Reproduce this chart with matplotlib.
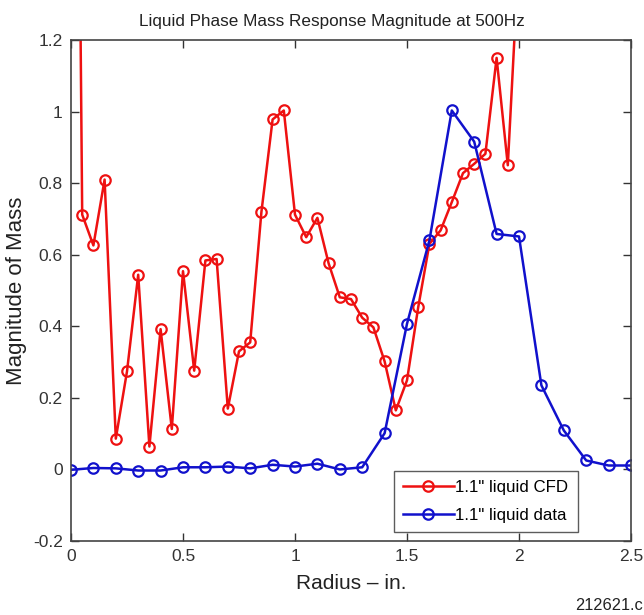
import matplotlib
matplotlib.use("Agg")
import matplotlib.pyplot as plt
from matplotlib.ticker import FuncFormatter

plt.rcParams['font.family'] = ['Liberation Sans', 'DejaVu Sans']

# CFD series (red)
cfd_x = [0.00, 0.05, 0.10, 0.15, 0.20, 0.25, 0.30, 0.35, 0.40, 0.45, 0.50,
         0.55, 0.60, 0.65, 0.70, 0.75, 0.80, 0.85, 0.90, 0.95, 1.00,
         1.05, 1.10, 1.15, 1.20, 1.25, 1.30, 1.35, 1.40, 1.45, 1.50,
         1.55, 1.60, 1.65, 1.70, 1.75, 1.80, 1.85, 1.90, 1.95, 2.00]
cfd_y = [4.2, 0.712, 0.626, 0.81, 0.086, 0.274, 0.544, 0.064, 0.392, 0.113, 0.554,
         0.276, 0.584, 0.588, 0.170, 0.330, 0.355, 0.719, 0.978, 1.003, 0.712,
         0.649, 0.703, 0.576, 0.481, 0.476, 0.424, 0.397, 0.302, 0.165, 0.249,
         0.453, 0.630, 0.668, 0.747, 0.828, 0.854, 0.882, 1.150, 0.850, 1.45]

# Measured data series (blue)
data_x = [0.0, 0.1, 0.2, 0.3, 0.4, 0.5, 0.6, 0.7, 0.8, 0.9, 1.0, 1.1, 1.2,
          1.3, 1.4, 1.5, 1.6, 1.7, 1.8, 1.9, 2.0, 2.1, 2.2, 2.3, 2.4, 2.5]
data_y = [-0.001, 0.004, 0.003, -0.003, -0.003, 0.006, 0.006, 0.008, 0.003, 0.013,
          0.008, 0.016, 0.0, 0.006, 0.101, 0.407, 0.640, 1.003, 0.916, 0.658,
          0.651, 0.235, 0.109, 0.025, 0.011, 0.011]

labels = ['1.1" liquid CFD', '1.1" liquid data']
x_ticks = [0, 0.5, 1, 1.5, 2, 2.5]
y_ticks = [-0.2, 0, 0.2, 0.4, 0.6, 0.8, 1.0, 1.2]

fig = plt.figure(figsize=(6.44, 6.15), dpi=100)
ax = fig.add_axes([71/644, 1-541/615, 560/644, 501/615])

ax.plot(cfd_x, cfd_y, color='#ee1111', lw=1.8, marker='o', ms=7.5,
        mfc='none', mec='#ee1111', mew=1.6, label=labels[0])
ax.plot(data_x, data_y, color='#1111cc', lw=1.8, marker='o', ms=7.5,
        mfc='none', mec='#1111cc', mew=1.6, label=labels[1])

ax.set_xlim(0, 2.5)
ax.set_ylim(-0.2, 1.2)
ax.set_xticks(x_ticks)
ax.set_yticks(y_ticks)
fmt = FuncFormatter(lambda v, p: ('%g' % round(v, 2)))
ax.xaxis.set_major_formatter(fmt)
ax.yaxis.set_major_formatter(fmt)
ax.tick_params(direction='in', top=True, right=True, length=6, width=1,
               labelsize=12.5, colors='#333333', pad=6)
for s in ax.spines.values():
    s.set_color('#444444')
    s.set_linewidth(1.2)

ax.set_xlabel('Radius \u2013 in.', fontsize=15, color='#222222', labelpad=7)
ax.set_ylabel('Magnitude of Mass', fontsize=16, color='#222222', labelpad=4)
ax.set_title('Liquid Phase Mass Response Magnitude at 500Hz', fontsize=12.3,
             color='#222222', pad=10, x=0.466)

leg = ax.legend(loc='lower right', bbox_to_anchor=(0.905, 0.018), fontsize=12.2,
                frameon=True, fancybox=False, edgecolor='#333333',
                handlelength=3.0, borderpad=0.55, labelspacing=0.75,
                handletextpad=0.1, borderaxespad=0.0)
leg.get_frame().set_linewidth(1.0)

fig.text(643/644, 1-605/615, '212621.c', fontsize=11.8, color='#222222',
         ha='right', va='center')

fig.savefig('out.png', dpi=100)
